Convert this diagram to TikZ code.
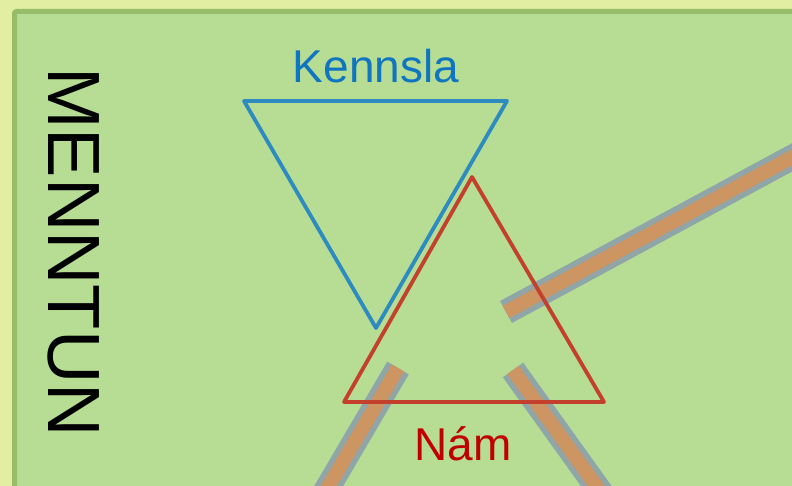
\documentclass[tikz,border=0pt]{standalone}
\usepackage{fontspec}
\setmainfont{Liberation Sans}
\definecolor{outerbg}{HTML}{E2EFA3}
\definecolor{panelborder}{HTML}{97BD6A}
\definecolor{panelfill}{HTML}{B6DD93}
\definecolor{tribl}{HTML}{2E8BC0}
\definecolor{trird}{HTML}{C3402C}
\definecolor{barfill}{HTML}{CC9562}
\definecolor{baredge}{HTML}{8FA5A8}
\definecolor{txtblue}{HTML}{0F75C0}
\definecolor{txtred}{HTML}{C00000}
\tikzset{
  triline/.style={line width=3.8pt, line join=round},
  barouter/.style={line width=25pt, draw=baredge, line cap=butt},
  barinner/.style={line width=14pt, draw=barfill, line cap=butt},
  bigtext/.style={inner sep=0pt, font=\fontsize{46}{50}\selectfont},
}
\begin{document}
\begin{tikzpicture}[x=1pt,y=-1pt]
\useasboundingbox (0,0) rectangle (792,486);
\clip (0,0) rectangle (792,486);
\fill[outerbg] (0,0) rectangle (792,486);
\draw[panelborder, fill=panelfill, line width=5pt, rounded corners=2pt] (14.5,11.5) rectangle (810,510);
% bars
\coordinate (b1a) at (506,312); \coordinate (b1b) at (900,99);
\coordinate (b2a) at (398,368); \coordinate (b2b) at (297,540);
\coordinate (b3a) at (513,370); \coordinate (b3b) at (635,540);
\foreach \s/\e in {b1a/b1b,b2a/b2b,b3a/b3b}{
  \draw[barouter] (\s) -- (\e);
  \draw[barinner] (\s) -- (\e);
}
% triangles
\coordinate (r1) at (472,177); \coordinate (r2) at (604,402); \coordinate (r3) at (344,402);
\draw[triline, trird] (r1) -- (r2) -- (r3) -- cycle;
\coordinate (k1) at (244,101); \coordinate (k2) at (507,101); \coordinate (k3) at (376,328);
\draw[triline, tribl] (k1) -- (k2) -- (k3) -- cycle;
% texts
\node[bigtext, text=txtblue, anchor=base] (kennsla) at (376,83) {Kennsla};
\node[bigtext, text=txtred, anchor=base] (nam) at (463,460) {Nám};
\node[inner sep=0pt, font=\fontsize{74}{80}\selectfont, rotate=-90, anchor=base] (menntun) at (48,252) {MENNTUN};
\end{tikzpicture}
\end{document}
